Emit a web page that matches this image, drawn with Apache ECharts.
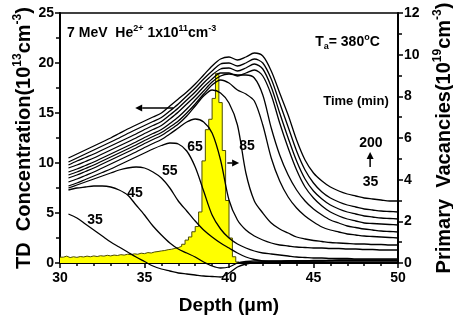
<!DOCTYPE html>
<html>
<head>
<meta charset="utf-8">
<script src="https://cdn.jsdelivr.net/npm/echarts@6/dist/echarts.min.js"></script>
<style>
  html, body { margin: 0; padding: 0; background: #fff; }
  #chart { width: 453px; height: 323px; }
</style>
</head>
<body>
<div id="chart"></div>
<script>
// Depth grid (µm) shared by all TD concentration profiles
const depth = [30.5, 31, 31.5, 32, 32.5, 33, 33.5, 34, 34.5, 35,
               35.5, 36, 36.5, 37, 37.5, 38, 38.5, 39, 39.5, 40,
               40.5, 41, 41.5, 42, 42.5, 43, 43.5, 44, 44.5, 45,
               45.5, 46, 46.5, 47, 47.5, 48, 48.5, 49, 49.5, 50];

// TD concentration (10^13 cm^-3) after successive annealing times, 35 min ... 200 min
const curve35  = [4.9, 4.5, 3.9, 3.3, 2.7, 2.1, 1.6, 1.1, 0.6, 0.15, -0.3, -0.6, -0.8, -1.0, -1.1, -1.2, -1.3, -1.35, -1.4, -1.0, -0.4, -0.1, 0.05, 0.1, 0.15, 0.15, 0.2, 0.2, 0.2, 0.2, 0.2, 0.25, 0.25, 0.25, 0.25, 0.25, 0.25, 0.25, 0.25, 0.25];
const curve45  = [7.3, 7.5, 7.6, 7.7, 7.7, 7.6, 7.3, 6.8, 5.8, 4.8, 3.7, 2.8, 2.0, 1.4, 1.0, 0.6, 0.1, -0.3, -0.5, -0.4, 0.0, 0.15, 0.2, 0.2, 0.2, 0.2, 0.2, 0.2, 0.2, 0.2, 0.2, 0.2, 0.2, 0.2, 0.2, 0.2, 0.2, 0.2, 0.2, 0.2];
const curve55  = [7.5, 7.8, 8.1, 8.4, 8.7, 9.0, 9.3, 9.5, 9.6, 9.5, 9.1, 8.5, 7.5, 6.2, 5.2, 4.2, 3.3, 2.6, 2.0, 1.5, 1.0, 0.6, 0.35, 0.2, 0.15, 0.15, 0.2, 0.2, 0.2, 0.25, 0.25, 0.25, 0.3, 0.3, 0.3, 0.3, 0.3, 0.3, 0.3, 0.3];
const curve65  = [7.7, 8.0, 8.35, 8.7, 9.05, 9.4, 9.8, 10.2, 10.6, 11.0, 11.4, 11.75, 12.0, 11.9, 11.2, 9.6, 7.2, 4.8, 3.4, 2.5, 1.9, 1.5, 1.2, 1.0, 0.9, 0.8, 0.7, 0.6, 0.55, 0.5, 0.5, 0.45, 0.45, 0.45, 0.4, 0.4, 0.4, 0.4, 0.4, 0.4];
const curveE   = [8.1, 8.4, 8.75, 9.1, 9.5, 9.9, 10.3, 10.7, 11.1, 11.55, 11.95, 12.35, 12.9, 13.5, 14.1, 14.4, 14.1, 13.0, 10.3, 6.3, 4.3, 3.3, 2.7, 2.3, 2.0, 1.8, 1.7, 1.6, 1.55, 1.5, 1.5, 1.45, 1.45, 1.4, 1.4, 1.35, 1.35, 1.3, 1.3, 1.3];
const curve85  = [8.5, 8.8, 9.15, 9.5, 9.9, 10.3, 10.7, 11.1, 11.5, 11.95, 12.35, 12.75, 13.3, 13.9, 14.7, 15.7, 16.7, 17.3, 17.0, 16.0, 13.8, 9.0, 6.2, 5.0, 4.0, 3.4, 3.0, 2.6, 2.4, 2.25, 2.15, 2.05, 2.0, 1.95, 1.9, 1.9, 1.85, 1.85, 1.8, 1.8];
const curveG   = [8.8, 9.1, 9.45, 9.8, 10.2, 10.6, 11.0, 11.4, 11.8, 12.25, 12.65, 13.05, 13.6, 14.2, 15.0, 15.9, 16.9, 17.8, 18.3, 18.0, 17.3, 16.9, 16.2, 13.8, 10.5, 8.2, 6.6, 5.5, 4.7, 4.1, 3.6, 3.3, 3.1, 2.9, 2.8, 2.7, 2.65, 2.6, 2.55, 2.5];
const curveH   = [9.1, 9.4, 9.75, 10.1, 10.5, 10.9, 11.3, 11.7, 12.1, 12.55, 12.95, 13.35, 13.95, 14.6, 15.4, 16.3, 17.2, 18.1, 18.7, 18.9, 18.8, 18.8, 18.5, 16.8, 13.5, 10.8, 8.8, 7.3, 6.2, 5.4, 4.8, 4.3, 4.0, 3.7, 3.55, 3.4, 3.3, 3.2, 3.15, 3.1];
const curveI   = [9.5, 9.8, 10.15, 10.5, 10.9, 11.3, 11.7, 12.1, 12.5, 12.95, 13.35, 13.75, 14.4, 15.1, 15.9, 16.7, 17.6, 18.4, 19.0, 19.0, 18.7, 19.0, 19.3, 18.7, 16.8, 14.0, 11.5, 9.3, 7.6, 6.5, 5.7, 5.1, 4.7, 4.4, 4.2, 4.0, 3.95, 3.9, 3.85, 3.8];
const curveJ   = [9.8, 10.2, 10.55, 10.9, 11.3, 11.7, 12.1, 12.5, 12.9, 13.35, 13.75, 14.15, 14.8, 15.5, 16.3, 17.1, 18.0, 18.8, 19.4, 19.5, 19.2, 19.5, 19.9, 19.4, 17.6, 15.0, 12.5, 10.2, 8.4, 7.2, 6.4, 5.8, 5.4, 5.1, 4.9, 4.7, 4.6, 4.5, 4.45, 4.4];
const curveK   = [10.1, 10.5, 10.9, 11.3, 11.7, 12.1, 12.5, 12.95, 13.35, 13.75, 14.15, 14.55, 15.2, 15.9, 16.7, 17.5, 18.4, 19.2, 19.9, 20.0, 19.7, 20.0, 20.4, 20.0, 18.4, 16.0, 13.6, 11.2, 9.3, 8.0, 7.1, 6.5, 6.1, 5.8, 5.6, 5.4, 5.3, 5.2, 5.15, 5.1];
const curve200 = [10.5, 10.9, 11.3, 11.7, 12.1, 12.5, 12.95, 13.4, 13.8, 14.2, 14.6, 15.0, 15.7, 16.4, 17.1, 17.9, 18.8, 19.7, 20.4, 20.6, 20.3, 20.6, 21.0, 20.7, 19.2, 17.0, 14.8, 12.3, 10.3, 9.0, 8.2, 7.6, 7.2, 6.9, 6.7, 6.5, 6.4, 6.3, 6.2, 6.2];

// Primary vacancy histogram (10^19 cm^-3): left bin edges and bin heights
const vacEdges  = [30.0, 30.2, 30.4, 30.6, 30.8, 31.0, 31.2, 31.4, 31.6, 31.8,
                   32.0, 32.2, 32.4, 32.6, 32.8, 33.0, 33.2, 33.4, 33.6, 33.8,
                   34.0, 34.2, 34.4, 34.6, 34.8, 35.0, 35.2, 35.4, 35.6, 35.8,
                   36.0, 36.2, 36.4, 36.6, 36.8, 37.0, 37.2, 37.4, 37.6, 37.8,
                   38.0, 38.2, 38.4, 38.6, 38.8, 39.0, 39.2, 39.4, 39.6, 39.8,
                   40.0, 40.2, 40.4, 40.6];
const vacValues = [0.28, 0.33, 0.26, 0.30, 0.27, 0.31, 0.29, 0.33, 0.30, 0.34,
                   0.31, 0.35, 0.33, 0.37, 0.34, 0.38, 0.36, 0.40, 0.38, 0.42,
                   0.40, 0.44, 0.42, 0.47, 0.45, 0.50, 0.48, 0.53, 0.55, 0.58,
                   0.60, 0.64, 0.66, 0.70, 0.74, 0.80, 0.90, 1.10, 1.25, 1.50,
                   1.75, 2.45, 4.90, 6.40, 6.90, 7.90, 9.10, 7.70, 5.40, 3.00,
                   1.20, 0.30, 0.05, 0.0];

const curves = [curve35, curve45, curve55, curve65, curveE, curve85,
                curveG, curveH, curveI, curveJ, curveK, curve200];
const curveTimeLabels = ['35', '45', '55', '65', '85'];

const FF = '"Liberation Sans", Arial, sans-serif';
const BLACK = '#000';

const chart = echarts.init(document.getElementById('chart'), null, { renderer: 'canvas' });

const supRich = (size) => ({
  s: { fontSize: size, fontWeight: 'bold', fontFamily: FF, color: BLACK, verticalAlign: 'top', lineHeight: size },
  b: { fontSize: size, fontWeight: 'bold', fontFamily: FF, color: BLACK, verticalAlign: 'bottom', lineHeight: size }
});

const histSeries = {
  type: 'line',
  xAxisIndex: 0,
  yAxisIndex: 1,
  step: 'end',
  symbol: 'none',
  silent: true,
  z: 1,
  data: vacEdges.map((e, i) => [e, vacValues[i]]),
  lineStyle: { color: '#4d4d00', width: 1 },
  areaStyle: { color: '#ffff00', opacity: 1 }
};

const curveSeries = curves.map(vals => ({
  type: 'line',
  xAxisIndex: 0,
  yAxisIndex: 0,
  symbol: 'none',
  smooth: 0.3,
  clip: false,
  silent: true,
  z: 3,
  data: depth.map((d, i) => [d, vals[i]]),
  lineStyle: { color: BLACK, width: 1.3 }
}));

const axisLineStyle = { color: BLACK, width: 2 };
const tickStyle = { color: BLACK, width: 1.5 };
const tickLabel = { color: BLACK, fontSize: 14, fontWeight: 'bold', fontFamily: FF };

chart.setOption({
  animation: false,
  backgroundColor: '#fff',
  textStyle: { fontFamily: FF },
  grid: { left: 60, right: 55, top: 13, bottom: 60, containLabel: false, outerBoundsMode: 'none' },
  xAxis: [
    {
      type: 'value', min: 30, max: 50, interval: 5, position: 'bottom',
      axisLine: { onZero: false, lineStyle: axisLineStyle },
      axisTick: { length: 5, lineStyle: tickStyle },
      minorTick: { show: true, splitNumber: 5, length: 3, lineStyle: tickStyle },
      splitLine: { show: false },
      axisLabel: Object.assign({ margin: 8 }, tickLabel),
      name: 'Depth (μm)', nameLocation: 'middle', nameGap: 33, nameMoveOverlap: false,
      nameTextStyle: { color: BLACK, fontSize: 19, fontWeight: 'bold', fontFamily: FF }
    },
    {
      type: 'value', min: 30, max: 50, position: 'top',
      axisLine: { onZero: false, lineStyle: { color: BLACK, width: 1.5 } },
      axisTick: { show: false }, axisLabel: { show: false }, splitLine: { show: false }
    }
  ],
  yAxis: [
    {
      type: 'value', min: 0, max: 25, interval: 5, position: 'left',
      axisLine: { onZero: false, lineStyle: axisLineStyle },
      axisTick: { length: 5, lineStyle: tickStyle },
      minorTick: { show: true, splitNumber: 2, length: 4, lineStyle: tickStyle },
      splitLine: { show: false },
      axisLabel: Object.assign({ margin: 6 }, tickLabel),
      name: 'TD  Concentration(10{s|13}cm{s|-3})',
      nameLocation: 'middle', nameRotate: 90, nameGap: 24, nameMoveOverlap: false,
      nameTextStyle: { color: BLACK, fontSize: 20, fontWeight: 'bold', fontFamily: FF, lineHeight: 24, rich: supRich(12) }
    },
    {
      type: 'value', min: 0, max: 12, interval: 2, position: 'right',
      axisLine: { onZero: false, lineStyle: axisLineStyle },
      axisTick: { length: 5, lineStyle: tickStyle },
      minorTick: { show: true, splitNumber: 2, length: 4, lineStyle: tickStyle },
      splitLine: { show: false },
      axisLabel: Object.assign({ margin: 6 }, tickLabel),
      name: 'Primary  Vacancies(10{s|19}cm{s|-3})',
      nameLocation: 'middle', nameRotate: 90, nameGap: 34, nameMoveOverlap: false,
      nameTextStyle: { color: BLACK, fontSize: 20, fontWeight: 'bold', fontFamily: FF, lineHeight: 24, rich: supRich(12) }
    }
  ],
  series: [histSeries].concat(curveSeries)
});

// ---- annotations placed in data coordinates of the TD axis ----
const toPx = (x, y) => chart.convertToPixel({ xAxisIndex: 0, yAxisIndex: 0 }, [x, y]);

function textEl(str, p, align, size, rich) {
  return {
    type: 'text', x: p[0], y: p[1], z: 10, silent: true,
    style: {
      text: str, fill: BLACK, fontSize: size, fontWeight: 'bold', fontFamily: FF,
      align: align, verticalAlign: 'middle', lineHeight: size + 4, rich: rich || {}
    }
  };
}

function arrowEls(tail, head) {
  const dx = head[0] - tail[0], dy = head[1] - tail[1];
  const L = Math.hypot(dx, dy), ux = dx / L, uy = dy / L;
  const hl = 7, hw = 3.5;
  const bx = head[0] - ux * hl, by = head[1] - uy * hl;
  return [
    { type: 'line', z: 10, silent: true,
      shape: { x1: tail[0], y1: tail[1], x2: bx, y2: by },
      style: { stroke: BLACK, lineWidth: 1.5 } },
    { type: 'polygon', z: 10, silent: true,
      shape: { points: [[head[0], head[1]], [bx - uy * hw, by + ux * hw], [bx + uy * hw, by - ux * hw]] },
      style: { fill: BLACK } }
  ];
}

const labelAnchors = [[32.07, 4.3], [34.44, 7.0], [36.5, 9.2], [37.99, 11.6], [41.07, 11.7]];

const graphics = [];
graphics.push(textEl('7 MeV  He{s|2+} 1x10{s|11}cm{s|-3}', toPx(30.42, 23.0), 'left', 14, supRich(9)));
graphics.push(textEl('T{b|a}= 380{s|o}C', toPx(45.1, 22.1), 'left', 14, supRich(9)));
graphics.push(textEl('Time (min)', toPx(49.45, 16.2), 'right', 13));
graphics.push(textEl('200', toPx(48.4, 12.0), 'center', 14));
graphics.push(textEl('35', toPx(48.37, 8.1), 'center', 14));
graphics.push(...arrowEls(toPx(48.35, 9.6), toPx(48.35, 11.1)));
curveTimeLabels.forEach((t, i) => {
  graphics.push(textEl(t, toPx(labelAnchors[i][0], labelAnchors[i][1]), 'center', 14));
});
graphics.push(...arrowEls(toPx(36.7, 15.5), toPx(34.45, 15.5)));
graphics.push(...arrowEls(toPx(39.9, 10.0), toPx(40.6, 10.0)));

chart.setOption({ graphic: graphics });
</script>
</body>
</html>
